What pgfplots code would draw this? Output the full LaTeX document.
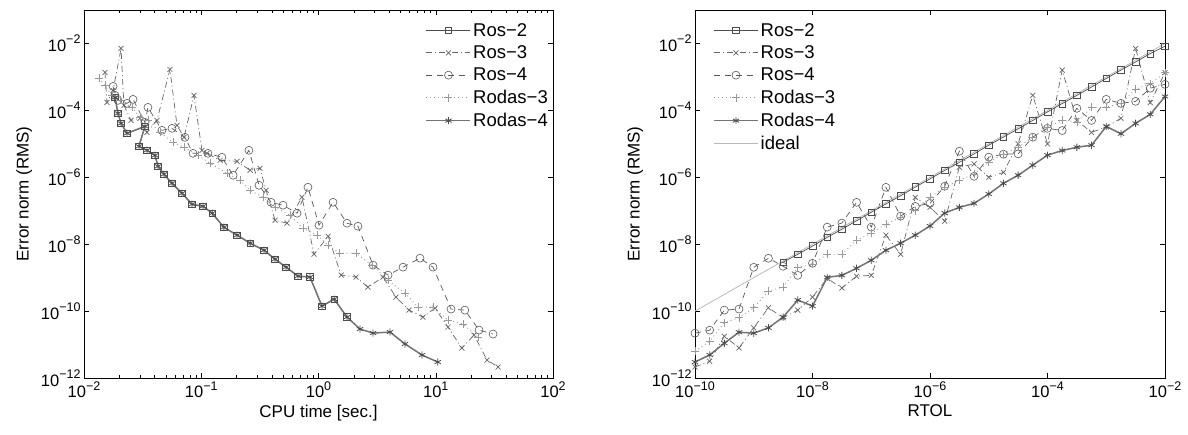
\documentclass[border=0pt]{standalone}
\usepackage{fontspec}
\setmainfont{Liberation Sans}
\usepackage{pgfplots}
\pgfplotsset{compat=1.18}
\definecolor{cA}{gray}{0.30}
\definecolor{cB}{gray}{0.40}
\definecolor{cC}{gray}{0.35}
\definecolor{cD}{gray}{0.60}
\definecolor{cE}{gray}{0.45}
\definecolor{cF}{gray}{0.72}
\newcommand\tp[1]{10\raisebox{7.5pt}{\fontsize{12.5}{13}\selectfont −#1}}
\newcommand\tq[1]{10\raisebox{7.5pt}{\fontsize{12.5}{13}\selectfont #1}}
\pgfplotsset{
  legend image code/.code={\draw[mark repeat=2,mark phase=2,#1] plot coordinates {(0pt,0pt) (22pt,0pt) (44pt,0pt)};},
}
\begin{document}
\begin{tikzpicture}
\useasboundingbox (-84pt,-56pt) rectangle (1104pt,378pt);
% ---------------- left ----------------
\begin{axis}[at={(0pt,0pt)}, anchor=south west, width=469pt,
  xmode=log, ymode=log, scale only axis, height=368pt,
  ymin=1e-12, ymax=1e-1,
  ytick={1e-12,1e-10,1e-8,1e-6,1e-4,1e-2},
  yticklabels={\tp{12},\tp{10},\tp{8},\tp{6},\tp{4},\tp{2}},
  axis line style={line width=0.8pt},
  tick style={black, line width=0.5pt},
  major tick length=5pt, minor tick length=3pt,
  tick label style={font=\fontsize{16.5}{19}\selectfont},
  xlabel style={font=\fontsize{17}{20}\selectfont},
  ylabel style={font=\fontsize{17}{20}\selectfont},
  ylabel shift=2pt,
  ylabel={Error norm (RMS)},
  legend style={draw=none, fill=none, font=\fontsize{18.5}{21}\selectfont, row sep=4pt, inner sep=1pt, at={(1,1)}, anchor=north east, xshift=-2pt, yshift=-10pt},
  legend cell align=left,
  xmin=1e-2, xmax=1e2,
  xtick={1e-2,1e-1,1,10,100},
  xticklabels={\tp{2},\tp{1},\tq{0},\tq{1},\tq{2}},
  minor xtick={2e-2,3e-2,4e-2,5e-2,6e-2,7e-2,8e-2,9e-2,0.2,0.3,0.4,0.5,0.6,0.7,0.8,0.9,2,3,4,5,6,7,8,9,20,30,40,50,60,70,80,90},
  xlabel={CPU time [sec.]},
]
\addplot[cA, line width=0.7pt, mark=square, mark size=3.3pt, mark options={solid, line width=0.6pt}] coordinates {
(1.84e-2,2.44e-4) (1.95e-2,8.13e-5) (2.07e-2,4.09e-5) (2.33e-2,2.06e-5) (3.31e-2,3.33e-5)
(2.94e-2,8.42e-6) (3.44e-2,6.40e-6) (4.03e-2,4.54e-6) (4.28e-2,2.13e-6) (4.81e-2,1.23e-6)
(5.63e-2,6.62e-7) (6.85e-2,3.33e-7) (8.34e-2,1.56e-7) (0.1035,1.36e-7) (0.124,8.42e-8)
(0.156,3.21e-8) (0.202,1.86e-8) (0.261,1.07e-8) (0.343,6.62e-9) (0.426,3.57e-9)
(0.528,2.06e-9) (0.668,1.11e-9) (0.846,1.04e-9) (1.07,1.41e-10) (1.36,2.28e-10) (1.75,6.62e-11)
};
\addlegendentry{Ros−2}
\addplot[cB, line width=0.7pt, dash pattern=on 6pt off 3pt on 1pt off 3pt, mark=x, mark size=3.5pt, mark options={solid, line width=0.7pt}] coordinates {
(1.51e-2,1.36e-3) (1.57e-2,1.73e-4) (1.77e-2,3.95e-4) (2.07e-2,7.10e-3) (2.19e-2,1.41e-4)
(2.52e-2,5.03e-5) (3.00e-2,5.77e-5) (3.44e-2,2.20e-5) (4.19e-2,5.03e-5) (5.41e-2,1.67e-3)
(6.21e-2,3.57e-5) (7.13e-2,1.56e-5) (8.67e-2,2.80e-4) (0.1014,6.40e-6) (0.112,5.20e-6)
(0.145,3.21e-6) (0.202,3.00e-6) (0.261,1.62e-6) (0.317,1.86e-6) (0.357,4.09e-7)
(0.426,5.20e-8) (0.539,4.24e-8) (0.723,2.53e-7) (0.916,5.03e-9) (1.21,1.73e-8)
(1.56,1.19e-9) (2.09,1.04e-9) (2.64,5.20e-10) (3.55,1.04e-9) (4.58,2.62e-10)
(5.91,1.07e-10) (7.78,6.62e-11) (9.86,1.23e-10) (12.7,3.33e-11) (16.7,7.86e-12)
(21.2,1.92e-11) (27.4,3.44e-12) (34.0,2.13e-12)
};
\addlegendentry{Ros−3}
\addplot[cC, line width=0.7pt, dash pattern=on 6pt off 5pt, mark=o, mark size=4pt, mark options={solid, line width=0.6pt}] coordinates {
(1.77e-2,5.20e-4) (1.84e-2,2.80e-4) (1.95e-2,1.99e-4) (2.33e-2,1.62e-4) (2.62e-2,2.13e-4)
(3.31e-2,4.38e-5) (3.51e-2,1.23e-4) (4.62e-2,2.53e-5) (5.63e-2,2.90e-5) (7.27e-2,1.56e-5)
(8.51e-2,5.20e-6) (0.114,5.20e-6) (0.150,3.95e-6) (0.187,1.15e-6) (0.255,6.40e-6)
(0.311,5.77e-7) (0.394,1.79e-7) (0.498,1.46e-7) (0.656,8.42e-8) (0.813,5.03e-7)
(1.01,3.69e-8) (1.33,1.79e-7) (1.75,4.24e-8) (2.17,3.44e-8) (2.92,2.36e-9)
(3.92,1.19e-9) (5.26,2.06e-9) (7.34,3.82e-9) (9.48,2.06e-9) (13.5,1.15e-10)
(17.7,1.07e-10) (23.4,2.71e-11) (30.8,2.06e-11)
};
\addlegendentry{Ros−4}
\addplot[cD, line width=0.8pt, dash pattern=on 1pt off 3pt, mark=+, mark size=4pt, mark options={solid, line width=0.7pt}] coordinates {
(1.34e-2,9.02e-4) (1.51e-2,5.57e-4) (1.73e-2,2.80e-4) (2.03e-2,1.99e-4) (2.57e-2,1.23e-4)
(3.00e-2,6.18e-5) (3.51e-2,5.03e-5) (4.45e-2,2.20e-5) (5.74e-2,1.11e-5) (7.13e-2,7.86e-6)
(9.38e-2,4.54e-6) (0.119,2.62e-6) (0.166,1.32e-6) (0.214,8.13e-7) (0.261,4.09e-7)
(0.336,2.53e-7) (0.426,1.27e-7) (0.571,7.34e-8) (0.738,3.00e-8) (0.971,1.86e-8)
(1.21,9.33e-9) (1.52,5.38e-9) (2.09,5.38e-9) (2.86,2.36e-9) (3.92,8.42e-10)
(5.47,3.44e-10) (7.06,1.32e-10) (9.48,1.32e-10) (12.7,5.38e-11) (17.1,4.09e-11) (22.9,1.67e-11)
};
\addlegendentry{Rodas−3}
\addplot[cE, line width=1.5pt, mark=asterisk, mark size=3.6pt, mark options={solid, line width=0.8pt, draw=cA}] coordinates {
(1.84e-2,2.44e-4) (1.95e-2,8.13e-5) (2.07e-2,4.09e-5) (2.33e-2,2.06e-5) (3.31e-2,3.33e-5)
(2.94e-2,8.42e-6) (3.44e-2,6.40e-6) (4.03e-2,4.54e-6) (4.28e-2,2.13e-6) (4.81e-2,1.23e-6)
(5.63e-2,6.62e-7) (6.85e-2,3.33e-7) (8.34e-2,1.56e-7) (0.1035,1.36e-7) (0.124,8.42e-8)
(0.156,3.21e-8) (0.202,1.86e-8) (0.261,1.07e-8) (0.343,6.62e-9) (0.426,3.57e-9)
(0.528,2.06e-9) (0.668,1.11e-9) (0.846,1.04e-9) (1.07,1.41e-10) (1.36,2.28e-10) (1.75,6.62e-11)
(2.26,2.90e-11) (2.92,2.20e-11) (4.07,2.36e-11) (5.47,1.04e-11) (7.64,4.86e-12) (10.4,3.00e-12)
};
\addlegendentry{Rodas−4}
\end{axis}
% ---------------- right ----------------
\begin{axis}[at={(611pt,0pt)}, anchor=south west, width=470pt,
  xmode=log, ymode=log, scale only axis, height=368pt,
  ymin=1e-12, ymax=1e-1,
  ytick={1e-12,1e-10,1e-8,1e-6,1e-4,1e-2},
  yticklabels={\tp{12},\tp{10},\tp{8},\tp{6},\tp{4},\tp{2}},
  axis line style={line width=0.8pt},
  tick style={black, line width=0.5pt},
  major tick length=5pt, minor tick length=3pt,
  tick label style={font=\fontsize{16.5}{19}\selectfont},
  xlabel style={font=\fontsize{17}{20}\selectfont},
  ylabel style={font=\fontsize{17}{20}\selectfont},
  ylabel shift=2pt,
  ylabel={Error norm (RMS)},
  legend style={draw=none, fill=none, font=\fontsize{18.5}{21}\selectfont, row sep=4pt, inner sep=1pt, at={(0,1)}, anchor=north west, xshift=17pt, yshift=-10pt},
  legend cell align=left,
  xmin=1e-10, xmax=1e-2,
  xtick={1e-10,1e-8,1e-6,1e-4,1e-2},
  xticklabels={\tp{10},\tp{8},\tp{6},\tp{4},\tp{2}},
  xlabel={RTOL},
]
\addplot[cA, line width=0.7pt, mark=square, mark size=3.3pt, mark options={solid, line width=0.6pt}] coordinates {
(3.16e-9,2.9e-9) (5.62e-9,5.0e-9) (1e-8,8.8e-9) (1.78e-8,1.6e-8) (3.16e-8,2.8e-8)
(5.62e-8,5.0e-8) (1e-7,9.0e-8) (1.78e-7,1.6e-7) (3.16e-7,2.8e-7) (5.62e-7,5.1e-7)
(1e-6,9.0e-7) (1.78e-6,1.6e-6) (3.16e-6,2.8e-6) (5.62e-6,5.0e-6) (1e-5,9.1e-6)
(1.78e-5,1.6e-5) (3.16e-5,2.8e-5) (5.62e-5,5.0e-5) (1e-4,9.0e-5) (1.78e-4,1.6e-4)
(3.16e-4,2.8e-4) (5.62e-4,5.0e-4) (1e-3,9.0e-4) (1.78e-3,1.6e-3) (3.16e-3,2.8e-3)
(5.62e-3,5.0e-3) (1e-2,8.3e-3)
};
\addlegendentry{Ros−2}
\addplot[cB, line width=0.7pt, dash pattern=on 6pt off 3pt on 1pt off 3pt, mark=x, mark size=3.5pt, mark options={solid, line width=0.7pt}] coordinates {
(1e-10,2.14e-12) (1.78e-10,3.16e-12) (3.16e-10,1.78e-11) (5.62e-10,7.94e-12) (1e-9,3.16e-11)
(1.78e-9,1.26e-10) (3.16e-9,6.31e-11) (5.62e-9,1.07e-10) (1e-8,2.63e-10) (1.78e-8,9.5e-10)
(3.16e-8,4.9e-10) (5.62e-8,1.1e-9) (1e-7,1.17e-9) (1.78e-7,1.86e-8) (3.16e-7,5.0e-9)
(5.62e-7,2.5e-7) (1e-6,1.26e-7) (1.78e-6,4.9e-8) (3.16e-6,2.0e-6) (5.62e-6,2.5e-6)
(1e-5,1.0e-6) (1.78e-5,1.4e-6) (3.16e-5,1.0e-5) (5.62e-5,2.8e-4) (1e-4,1.0e-5)
(1.78e-4,1.6e-3) (3.16e-4,5.0e-5) (5.62e-4,2.2e-5) (1e-3,3.2e-5) (1.78e-3,5.8e-5)
(3.16e-3,7.1e-3) (5.62e-3,1.7e-4) (1e-2,1.35e-3)
};
\addlegendentry{Ros−3}
\addplot[cC, line width=0.7pt, dash pattern=on 6pt off 5pt, mark=o, mark size=4pt, mark options={solid, line width=0.6pt}] coordinates {
(1e-10,2.19e-11) (1.78e-10,2.69e-11) (3.16e-10,1.07e-10) (5.62e-10,1.15e-10) (1e-9,2.04e-9)
(1.78e-9,3.8e-9) (3.16e-9,2.19e-9) (5.62e-9,1.17e-9) (1e-8,2.69e-9) (1.78e-8,3.24e-8)
(3.16e-8,4.27e-8) (5.62e-8,1.78e-7) (1e-7,3.24e-8) (1.78e-7,5.0e-7) (3.16e-7,6.9e-8)
(5.62e-7,1.35e-7) (1e-6,1.66e-7) (1.78e-6,5.4e-7) (3.16e-6,6.0e-6) (5.62e-6,1.07e-6)
(1e-5,4.0e-6) (1.78e-5,4.9e-6) (3.16e-5,5.0e-6) (5.62e-5,1.58e-5) (1e-4,2.9e-5)
(1.78e-4,2.5e-5) (3.16e-4,1.15e-4) (5.62e-4,5.0e-5) (1e-3,2.14e-4) (1.78e-3,1.62e-4)
(3.16e-3,1.86e-4) (5.62e-3,4.6e-4) (1e-2,6.0e-4)
};
\addlegendentry{Ros−4}
\addplot[cD, line width=0.8pt, dash pattern=on 1pt off 3pt, mark=+, mark size=4pt, mark options={solid, line width=0.7pt}] coordinates {
(1e-10,6.3e-12) (1.78e-10,1.26e-11) (3.16e-10,4.5e-11) (5.62e-10,6.3e-11) (1e-9,1.26e-10)
(1.78e-9,4.0e-10) (3.16e-9,5.2e-10) (5.62e-9,2.0e-9) (1e-8,2.5e-9) (1.78e-8,5.0e-9)
(3.16e-8,5.0e-9) (5.62e-8,1.32e-8) (1e-7,2.1e-8) (1.78e-7,4.0e-8) (3.16e-7,6.3e-8)
(5.62e-7,1.0e-7) (1e-6,2.5e-7) (1.78e-6,5.0e-7) (3.16e-6,8.1e-7) (5.62e-6,1.26e-6)
(1e-5,2.8e-6) (1.78e-5,5.0e-6) (3.16e-5,7.9e-6) (5.62e-5,1.58e-5) (1e-4,3.2e-5)
(1.78e-4,5.0e-5) (3.16e-4,4.5e-5) (5.62e-4,1.23e-4) (1e-3,1.26e-4) (1.78e-3,1.58e-4)
(3.16e-3,4.3e-4) (5.62e-3,6.3e-4) (1e-2,1.35e-3)
};
\addlegendentry{Rodas−3}
\addplot[cE, line width=1.5pt, mark=asterisk, mark size=3.6pt, mark options={solid, line width=0.8pt, draw=cA}] coordinates {
(1e-10,3.0e-12) (1.78e-10,4.9e-12) (3.16e-10,1.1e-11) (5.62e-10,2.34e-11) (1e-9,2.19e-11)
(1.78e-9,3.16e-11) (3.16e-9,6.6e-11) (5.62e-9,2.14e-10) (1e-8,1.41e-10) (1.78e-8,1.02e-9)
(3.16e-8,1.17e-9) (5.62e-8,1.9e-9) (1e-7,3.3e-9) (1.78e-7,6.6e-9) (3.16e-7,1.07e-8)
(5.62e-7,1.86e-8) (1e-6,3.5e-8) (1.78e-6,8.5e-8) (3.16e-6,1.26e-7) (5.62e-6,1.66e-7)
(1e-5,3.16e-7) (1.78e-5,6.6e-7) (3.16e-5,1.15e-6) (5.62e-5,2.3e-6) (1e-4,4.6e-6)
(1.78e-4,6.3e-6) (3.16e-4,7.9e-6) (5.62e-4,9.1e-6) (1e-3,3.3e-5) (1.78e-3,2.0e-5)
(3.16e-3,4.1e-5) (5.62e-3,7.6e-5) (1e-2,2.6e-4)
};
\addlegendentry{Rodas−4}
\addplot[cF, line width=0.8pt] coordinates {(1e-10,1e-10) (1e-2,1e-2)};
\addlegendentry{ideal}
\end{axis}
\end{tikzpicture}
\end{document}
